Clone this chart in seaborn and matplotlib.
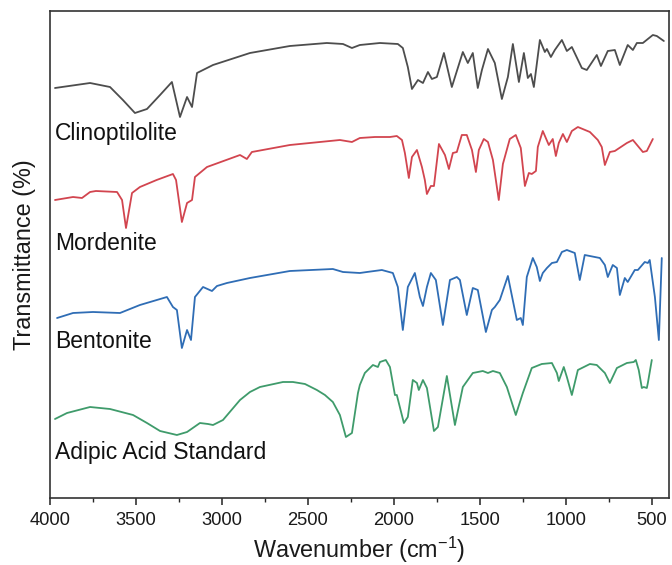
import numpy as np
import pandas as pd
import matplotlib
matplotlib.use("Agg")
import matplotlib.pyplot as plt
import seaborn as sns
from matplotlib.ticker import MultipleLocator

# ---- data (wavenumber in cm-1, transmittance in arbitrary offset units) ----
clino_x = [3971, 3767, 3651, 3576, 3506, 3436, 3360, 3291, 3244, 3203, 3174, 3145, 3052, 2837,
           2605, 2390, 2296, 2244, 2198, 2081, 1977, 1948, 1919, 1895, 1860, 1831, 1802, 1779,
           1750, 1709, 1663, 1599, 1570, 1541, 1512, 1488, 1453, 1413, 1372, 1337, 1308, 1273,
           1244, 1221, 1203, 1186, 1151, 1122, 1110, 1087, 1064, 1023, 994, 965, 907, 878, 820,
           796, 756, 715, 686, 640, 610, 587, 552, 494, 471, 430]
clino_y = [410, 415, 411, 398, 385, 389, 403, 416, 381, 401, 391, 425, 433, 445,
           452, 455, 454, 450, 453, 455, 454, 450, 431, 409, 418, 415, 426, 419,
           421, 445, 411, 446, 435, 445, 410, 428, 449, 435, 399, 421, 454, 416,
           445, 420, 424, 411, 458, 446, 449, 441, 448, 458, 447, 451, 430, 428, 443,
           432, 447, 448, 433, 453, 448, 455, 455, 463, 462, 457]

mord_x = [3971, 3866, 3814, 3767, 3733, 3610, 3581, 3558, 3523, 3477, 3380, 3285, 3267, 3233,
          3203, 3174, 3157, 3087, 2895, 2855, 2826, 2605, 2314, 2244, 2198, 2110, 2023, 1983,
          1953, 1936, 1913, 1895, 1866, 1837, 1820, 1808, 1785, 1767, 1738, 1703, 1680, 1657,
          1634, 1605, 1576, 1546, 1523, 1506, 1477, 1453, 1424, 1390, 1366, 1326, 1291, 1262,
          1238, 1215, 1198, 1174, 1163, 1134, 1099, 1076, 1058, 1041, 1017, 994, 965, 930, 860,
          814, 791, 773, 744, 715, 645, 610, 552, 529, 494]
mord_y = [298, 301, 300, 306, 307, 306, 298, 270, 305, 311, 318, 324, 318, 276,
          295, 298, 321, 331, 343, 339, 346, 353, 358, 356, 360, 361, 361, 362,
          358, 345, 320, 341, 348, 331, 318, 304, 312, 312, 354, 343, 329, 345,
          346, 363, 363, 348, 326, 348, 359, 356, 338, 298, 334, 359, 363, 350,
          312, 325, 324, 327, 351, 367, 353, 359, 342, 355, 364, 356, 367, 371, 366,
          358, 351, 333, 346, 347, 355, 358, 346, 347, 359]

bent_x = [3959, 3866, 3750, 3593, 3477, 3320, 3285, 3262, 3233, 3203, 3180, 3157, 3110, 3058,
          3029, 2971, 2837, 2605, 2355, 2296, 2198, 2157, 2070, 2006, 1977, 1948, 1919, 1878,
          1849, 1831, 1808, 1785, 1756, 1715, 1674, 1634, 1616, 1576, 1541, 1512, 1465, 1430,
          1413, 1384, 1337, 1285, 1262, 1250, 1227, 1192, 1169, 1151, 1134, 1110, 1081, 1052,
          1023, 994, 948, 919, 890, 802, 773, 756, 727, 703, 686, 657, 640, 599, 581, 541, 523,
          512, 482, 459, 442]
bent_y = [180, 185, 186, 185, 193, 201, 191, 188, 150, 168, 158, 201, 211, 207,
          212, 215, 220, 227, 229, 226, 225, 226, 228, 225, 211, 168, 211, 225,
          201, 192, 211, 225, 218, 173, 218, 221, 218, 183, 210, 208, 166, 188,
          191, 198, 222, 178, 180, 173, 221, 240, 231, 217, 225, 230, 235, 236,
          246, 248, 245, 218, 243, 240, 233, 221, 233, 230, 203, 220, 216, 228, 228, 236, 235,
          238, 201, 158, 240]

adip_x = [3971, 3901, 3767, 3651, 3517, 3436, 3360, 3262, 3203, 3128, 3081, 3052, 2994, 2895,
          2837, 2779, 2645, 2587, 2517, 2448, 2401, 2355, 2314, 2279, 2244, 2209, 2198, 2169,
          2122, 2093, 2081, 2047, 2023, 1994, 1983, 1942, 1919, 1890, 1866, 1855, 1831, 1808,
          1767, 1744, 1692, 1645, 1599, 1541, 1483, 1453, 1424, 1384, 1343, 1291, 1250, 1198,
          1140, 1081, 1052, 1041, 1012, 994, 965, 930, 860, 820, 773, 744, 703, 645, 605, 593,
          576, 558, 547, 529, 523, 500]
adip_y = [79, 85, 91, 89, 83, 75, 67, 63, 66, 75, 74, 73, 78, 98,
          106, 111, 116, 116, 114, 108, 103, 96, 83, 61, 65, 105, 113, 125,
          133, 131, 136, 138, 131, 103, 103, 75, 81, 118, 115, 108, 118, 110,
          67, 71, 122, 73, 111, 125, 127, 125, 127, 125, 111, 83, 105, 130,
          134, 135, 125, 117, 131, 121, 103, 128, 134, 133, 125, 115, 130, 135, 136, 138,
          128, 110, 111, 110, 115, 138]

samples = ["Clinoptilolite", "Mordenite", "Bentonite", "Adipic Acid Standard"]
colors = ["#4d4d4d", "#d2454f", "#2f6db5", "#3f9b6b"]
label_x = [3971, 3971, 3971, 3971]
label_y = [358, 248, 150, 39]

xs = [clino_x, mord_x, bent_x, adip_x]
ys = [clino_y, mord_y, bent_y, adip_y]
df = pd.concat([pd.DataFrame({"Wavenumber": x, "T": y, "Sample": s})
                for x, y, s in zip(xs, ys, samples)], ignore_index=True)

# ---- plot ----
sns.set_theme(style="white")
plt.rcParams["font.family"] = ["Liberation Sans", "DejaVu Sans"]
plt.rcParams["mathtext.fontset"] = "custom"
plt.rcParams["mathtext.rm"] = "Liberation Sans"
plt.rcParams["mathtext.it"] = "Liberation Sans:italic"

fig = plt.figure(figsize=(6.72, 5.65), dpi=100)
ax = fig.add_axes([50 / 672, 1 - 498 / 565, 619 / 672, 487 / 565])

sns.lineplot(data=df, x="Wavenumber", y="T", hue="Sample", hue_order=samples,
             palette=dict(zip(samples, colors)), estimator=None, sort=False,
             linewidth=1.3, legend=False, ax=ax)

for s, c, tx, ty in zip(samples, colors, label_x, label_y):
    ax.text(tx, ty, s, fontsize=16.5, color="#111111", ha="left", va="baseline")

ax.set_xlim(4000, 400)
ax.set_ylim(0, 487)
ax.xaxis.set_major_locator(MultipleLocator(500))
ax.xaxis.set_minor_locator(MultipleLocator(250))
ax.set_yticks([])
ax.tick_params(axis="x", which="major", direction="out", length=5, width=1.1,
               labelsize=13.2, pad=5, colors="#222222", bottom=True)
ax.tick_params(axis="x", which="minor", direction="out", length=2.8, width=1.0,
               bottom=True)
ax.tick_params(axis="x", labelcolor="#1a1a1a")
for sp in ax.spines.values():
    sp.set_color("#333333")
    sp.set_linewidth(1.2)

ax.set_xlabel(r"Wavenumber (cm$^{-1}$)", fontsize=16.8, color="#1a1a1a", labelpad=4)
ax.set_ylabel("Transmittance (%)", fontsize=16.8, color="#1a1a1a", labelpad=10)

fig.savefig("out.png", dpi=100)
